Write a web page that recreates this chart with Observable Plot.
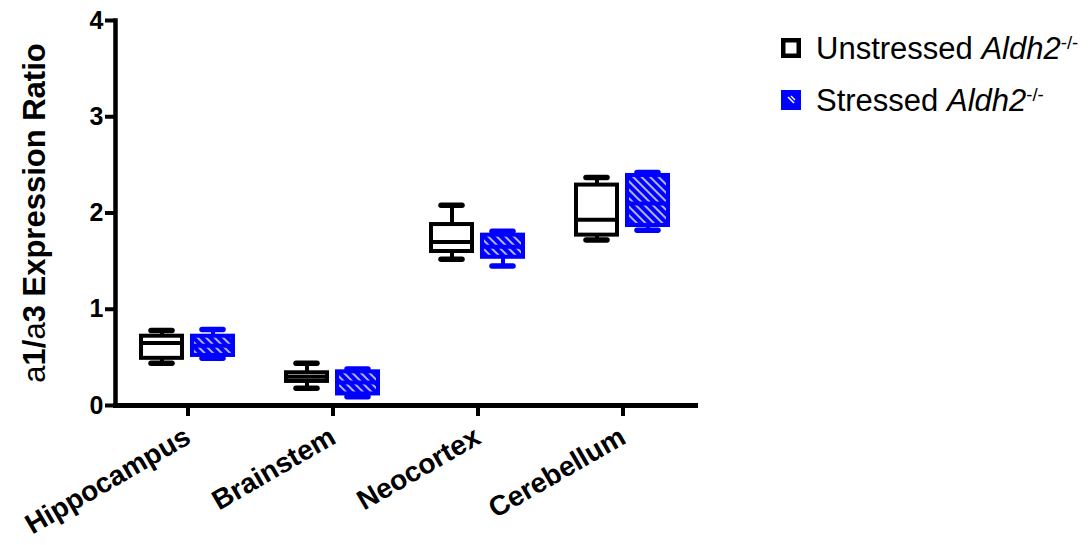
<!DOCTYPE html>
<html><head><meta charset="utf-8">
<script src="https://cdn.jsdelivr.net/npm/d3@7"></script>
<script src="https://cdn.jsdelivr.net/npm/@observablehq/plot@0.6"></script>
<style>
body{margin:0;background:#fff;font-family:"Liberation Sans",Arial,sans-serif;}
#wrap{position:relative;width:1088px;height:545px;overflow:hidden;}
#legend{position:absolute;left:781px;top:31px;font-size:31px;color:#000;line-height:1;}
.row{display:flex;align-items:center;height:34px;margin-bottom:18px;white-space:nowrap;}
.row svg{margin-right:15px;flex:none;}
sup{font-size:0.6em;vertical-align:0.55em;line-height:0;}
</style>
</head><body>
<svg width="0" height="0" style="position:absolute">
  <defs>
    <pattern id="hatch" patternUnits="userSpaceOnUse" width="6" height="6" patternTransform="rotate(-45)">
      <rect width="6" height="6" fill="#0000ff"></rect>
      <line x1="3" y1="0" x2="3" y2="6" stroke="#ffffff" stroke-width="1.4"></line>
    </pattern>
  </defs>
</svg>
<div id="wrap">
  <div id="legend"></div>
</div>
<script>
const regions = ["Hippocampus", "Brainstem", "Neocortex", "Cerebellum"];
const groups = ["Unstressed", "Stressed"];
const legendLabels = ["Unstressed", "Stressed"];
const yTicks = [0, 1, 2, 3, 4];
const yLabelParts = [["a", "normal"], ["1/", "bold"], ["a", "normal"], ["3 Expression Ratio", "bold"]];

const unstressedMin = [0.44, 0.18, 1.52, 1.72];
const unstressedQ1  = [0.49, 0.25, 1.60, 1.77];
const unstressedMed = [0.65, 0.30, 1.70, 1.93];
const unstressedQ3  = [0.72, 0.34, 1.88, 2.29];
const unstressedMax = [0.78, 0.44, 2.08, 2.37];

const stressedMin = [0.49, 0.09, 1.45, 1.82];
const stressedQ1  = [0.52, 0.12, 1.54, 1.87];
const stressedMed = [0.62, 0.24, 1.65, 2.10];
const stressedQ3  = [0.72, 0.35, 1.77, 2.39];
const stressedMax = [0.79, 0.38, 1.81, 2.42];

const unstressed = regions.map((r, i) => ({region: r, group: groups[0], min: unstressedMin[i], q1: unstressedQ1[i], med: unstressedMed[i], q3: unstressedQ3[i], max: unstressedMax[i]}));
const stressed = regions.map((r, i) => ({region: r, group: groups[1], min: stressedMin[i], q1: stressedQ1[i], med: stressedMed[i], q3: stressedQ3[i], max: stressedMax[i]}));

function boxMarks(data, color, fill) {
  const base = {fx: "region", x: "group"};
  return [
    Plot.ruleX(data, {...base, y1: "min", y2: "max", stroke: color, strokeWidth: 4}),
    Plot.tickY(data, {...base, y: "min", stroke: color, strokeWidth: 5.5, strokeLinecap: "round", insetLeft: 10, insetRight: 10}),
    Plot.tickY(data, {...base, y: "max", stroke: color, strokeWidth: 5.5, strokeLinecap: "round", insetLeft: 10, insetRight: 10}),
    Plot.barY(data, {...base, y1: "q1", y2: "q3", fill: fill, stroke: color, strokeWidth: 4}),
    Plot.tickY(data, {...base, y: "med", stroke: color, strokeWidth: 4})
  ];
}

const chart = Plot.plot({
  width: 1088,
  height: 545,
  marginLeft: 115,
  marginRight: 393,
  marginTop: 20,
  marginBottom: 140,
  style: {fontFamily: "'Liberation Sans', Arial, sans-serif", background: "#fff", color: "#000"},
  fx: {domain: regions, padding: 0, label: null},
  x: {domain: groups, paddingInner: 0.19, paddingOuter: 0.5, axis: null},
  y: {domain: [0, 4], axis: null},
  marks: [
    ...boxMarks(unstressed, "#000000", "#ffffff"),
    ...boxMarks(stressed, "#0000ff", "url(#hatch)"),
    Plot.frame({anchor: "left", facet: "super", stroke: "#000", strokeWidth: 4.5}),
    Plot.frame({anchor: "bottom", facet: "super", stroke: "#000", strokeWidth: 5}),
    Plot.axisY({ticks: yTicks, tickFormat: "d", tickSize: 10, tickPadding: 2, strokeWidth: 4, fontSize: 25, fontWeight: "bold",
      label: "a1/a3 Expression Ratio", labelAnchor: "center", labelOffset: 93, labelArrow: false}),
    Plot.axisFx({anchor: "bottom", tickSize: 11, strokeWidth: 4, tickRotate: -30, fontSize: 28, fontWeight: "bold", tickPadding: 18, label: null})
  ]
});

const ns = "http://www.w3.org/2000/svg";
const lab = chart.querySelector('g[aria-label="y-axis label"] text');
if (lab) {
  lab.textContent = "";
  lab.setAttribute("font-size", 31);
  yLabelParts.forEach(([t, w]) => {
    const ts = document.createElementNS(ns, "tspan");
    ts.textContent = t;
    ts.setAttribute("font-weight", w);
    lab.appendChild(ts);
  });
}
document.getElementById("wrap").prepend(chart);

// legend
const legend = document.getElementById("legend");
const swatches = [
  '<svg width="20" height="20"><rect x="2.25" y="2.25" width="15.5" height="15.5" fill="#fff" stroke="#000" stroke-width="4.5"/></svg>',
  '<svg width="20" height="20"><rect x="0" y="0" width="20" height="20" fill="#0000ff"/><line x1="7" y1="7" x2="13" y2="13" stroke="#fff" stroke-width="1.6"/><line x1="10" y1="6" x2="14" y2="10" stroke="#fff" stroke-width="1.2"/></svg>'
];
legendLabels.forEach((l, i) => {
  const row = document.createElement("div");
  row.className = "row";
  row.innerHTML = swatches[i] + '<span>' + l + ' <i>Aldh2</i><sup>-/-</sup></span>';
  legend.appendChild(row);
});
</script>
</body></html>
